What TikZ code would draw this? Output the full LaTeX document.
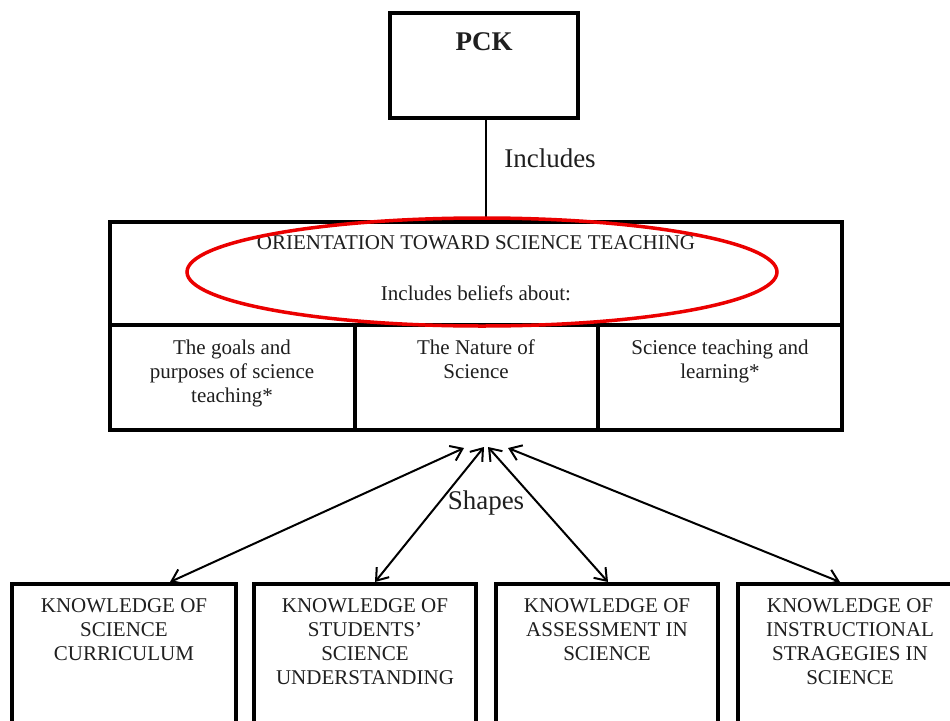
\documentclass[tikz,border=0pt]{standalone}
\usepackage{fontspec}
\setmainfont{Liberation Serif}
\usetikzlibrary{arrows.meta}
\begin{document}
\begin{tikzpicture}[x=1pt,y=-1pt,
  boxthick/.style={draw, line width=3.5pt, inner sep=0pt},
  cell/.style={draw, line width=3.5pt, inner sep=0pt, minimum height=105pt},
  kbox/.style={draw, line width=3.5pt, inner sep=0pt, minimum width=222pt, minimum height=156pt},
  tx/.style={font=\fontsize{21}{24}\selectfont, align=center, inner sep=0pt, text=black!88},
  lbl/.style={font=\fontsize{27}{30}\selectfont, inner sep=0pt, text=black!88},
  conn/.style={line width=2pt},
  arr/.style={line width=2pt, {Straight Barb[length=11pt,width=16pt,line width=2pt]}-{Straight Barb[length=11pt,width=16pt,line width=2pt]}},
  oval/.style={draw=red!92!black, line width=3.5pt}
]
\useasboundingbox (0,0) rectangle (950,720);
\fill[white] (0,0) rectangle (950,720);
\begin{scope}
\clip (0,0) rectangle (950,720);

% PCK
\node[boxthick, minimum width=188pt, minimum height=105pt] (pck) at (484,65.5) {};
\node[lbl, font=\fontsize{27}{30}\selectfont\bfseries] (pcklbl) at (484,42) {PCK};

% orientation box
\node[boxthick, minimum width=732pt, minimum height=103pt] (top) at (476,273.5) {};
\node[cell, minimum width=245pt] (c1) at (232.5,377.5) {};
\node[cell, minimum width=243pt] (c2) at (476.5,377.5) {};
\node[cell, minimum width=244pt] (c3) at (720,377.5) {};

\node[tx] (ot) at (476,243) {ORIENTATION TOWARD SCIENCE TEACHING};
\node[tx] (ib) at (476,293) {Includes beliefs about:};

\node[tx, anchor=north] (c1t) at (232,340) {The goals and\\purposes of science\\teaching*};
\node[tx, anchor=north] (c2t) at (476,340) {The Nature of\\Science};
\node[tx, anchor=north] (c3t) at (720,340) {Science teaching and\\learning*};

% includes line
\draw[conn] (pck.south -| 486,0) -- (top.north -| 486,0);
\node[lbl] (inc) at (550,158) {Includes};

% bottom boxes
\node[kbox, minimum width=224pt] (b1) at (124,662) {};
\node[kbox] (b2) at (365,662) {};
\node[kbox] (b3) at (607,662) {};
\node[kbox, minimum width=224pt] (b4) at (850,662) {};

\node[tx, anchor=north] (b1t) at (124,598) {KNOWLEDGE OF\\SCIENCE\\CURRICULUM};
\node[tx, anchor=north] (b2t) at (365,598) {KNOWLEDGE OF\\STUDENTS'\\SCIENCE\\UNDERSTANDING};
\node[tx, anchor=north] (b3t) at (607,598) {KNOWLEDGE OF\\ASSESSMENT IN\\SCIENCE};
\node[tx, anchor=north] (b4t) at (850,598) {KNOWLEDGE OF\\INSTRUCTIONAL\\STRAGEGIES IN\\SCIENCE};

% arrows
\coordinate (a1) at (464,448);
\coordinate (a2) at (484,447);
\coordinate (a3) at (488,447);
\coordinate (a4) at (508,448);
\coordinate (e1) at (170,582);
\coordinate (e2) at (375,582);
\coordinate (e3) at (608,582);
\coordinate (e4) at (840,582);
\draw[arr] (a1) -- (e1);
\draw[arr] (a2) -- (e2);
\draw[arr] (a3) -- (e3);
\draw[arr] (a4) -- (e4);
\node[lbl] (shp) at (486,503) {Shapes};

% red ellipse
\draw[oval] (482,272) ellipse [x radius=295, y radius=54];
\end{scope}
\end{tikzpicture}
\end{document}
